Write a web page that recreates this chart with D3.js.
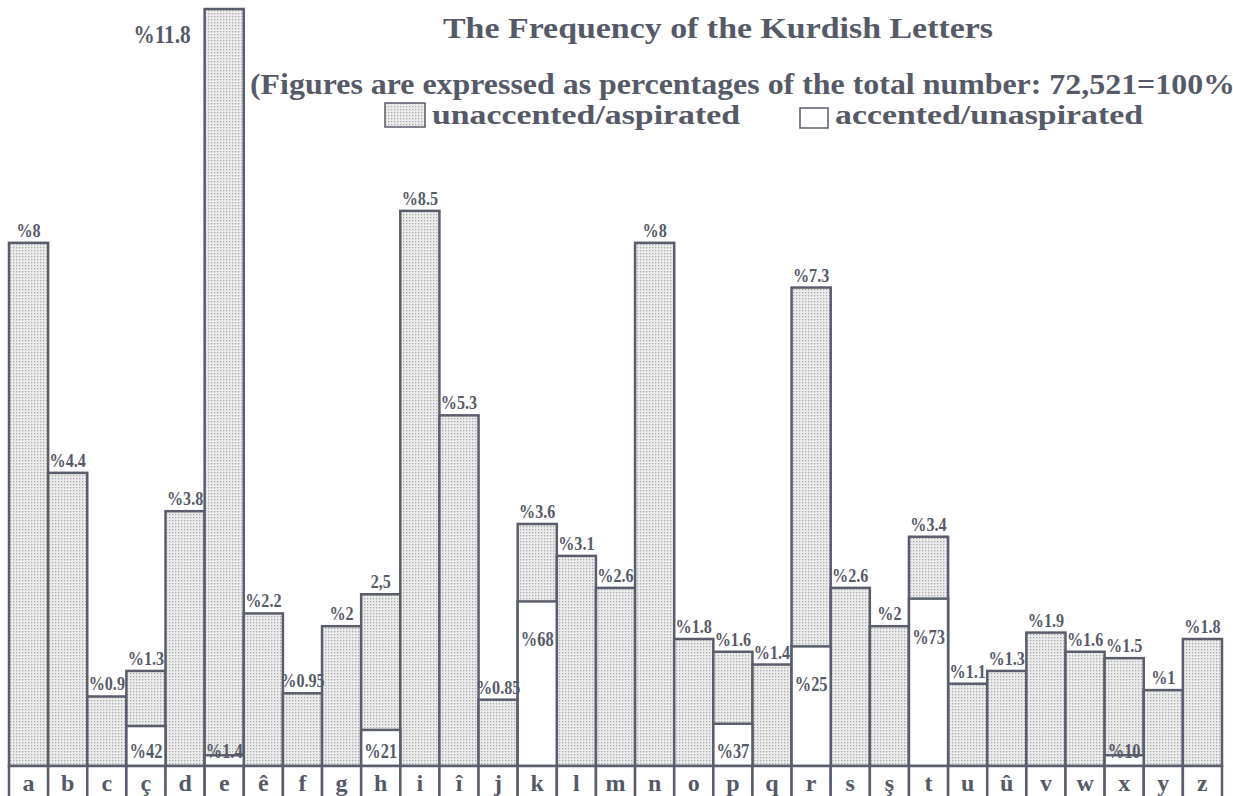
<!DOCTYPE html>
<html>
<head>
<meta charset="utf-8">
<script src="https://cdn.jsdelivr.net/npm/d3@7"></script>
<style>
  body { margin: 0; background: #fff; }
  svg text { font-family: "Liberation Serif", "Times New Roman", serif; font-weight: bold; fill: #565a68; }
</style>
</head>
<body>
<div id="chart"></div>
<script>
(function() {
"use strict"

var width = 1233, height = 796;

// letters of the Kurdish (Latin) alphabet
var letters = ["a","b","c","ç","d","e","ê","f","g","h","i","î","j","k","l","m","n","o","p","q","r","s","ş","t","u","û","v","w","x","y","z"];
// total frequency of each letter, % of 72,521
var freq = [8,4.4,0.9,1.3,3.8,11.8,2.2,0.95,2,2.5,8.5,5.3,0.85,3.6,3.1,2.6,8,1.8,1.6,1.4,7.3,2.6,2,3.4,1.1,1.3,1.9,1.6,1.5,1,1.8];
// labels as printed above the bars
var freqLabels = ["%8","%4.4","%0.9","%1.3","%3.8","%11.8","%2.2","%0.95","%2","2,5","%8.5","%5.3","%0.85","%3.6","%3.1","%2.6","%8","%1.8","%1.6","%1.4","%7.3","%2.6","%2","%3.4","%1.1","%1.3","%1.9","%1.6","%1.5","%1","%1.8"];
// share of the accented/unaspirated form within a letter (% of that letter)
var accLetters = ["ç","e","h","k","p","r","t","x"];
var accShare = [42,1.4,21,68,37,25,73,10];

var title = "The Frequency of the Kurdish Letters";
var subtitle = "(Figures are expressed as percentages of the total number: 72,521=100%";
var legendNames = ["unaccented/aspirated","accented/unaspirated"];

var ink = "#5a5e6c";
var base = 766; // top of the letter row

var svg = d3.select("#chart").append("svg")
    .attr("width", width)
    .attr("height", height);

// stipple pattern for the unaccented part
var pat = svg.append("defs").append("pattern")
    .attr("id","stipple")
    .attr("width",3).attr("height",3)
    .attr("patternUnits","userSpaceOnUse");
pat.append("rect").attr("width",3).attr("height",3).attr("fill","#ececec");
pat.append("rect").attr("x",1).attr("y",1).attr("width",1.3).attr("height",1.3).attr("fill","#a9a9a9");

var x = d3.scaleBand()
    .domain(letters)
    .range([9, 1222])
    .padding(0);

var y = d3.scaleLinear()
    .domain([0, 11.8])
    .range([754, 0]);

var data = letters.map(function(l, i) {
    var k = accLetters.indexOf(l);
    return {letter: l, v: freq[i], label: freqLabels[i], acc: k >= 0 ? accShare[k] : null};
});

// squeeze a bold label horizontally, like the printed original
var squeeze = function(f) {
    return function() {
        this.setAttribute("textLength", this.getComputedTextLength() * f);
        this.setAttribute("lengthAdjust", "spacingAndGlyphs");
    };
};

// bars
var bars = svg.append("g");
bars.selectAll("rect.bar")
    .data(data)
  .enter().append("rect")
    .attr("class","bar")
    .attr("x", function(d) { return x(d.letter); })
    .attr("y", function(d) { return Math.max(y(d.v), 9); })
    .attr("width", x.bandwidth())
    .attr("height", function(d) { return base - Math.max(y(d.v), 9); })
    .attr("fill","url(#stipple)")
    .attr("stroke", ink)
    .attr("stroke-width", 2.5);

// accented part, white at the bottom of the bar
var accTop = function(d) { return base - d.acc/100*(base - y(d.v)); };
var accData = data.filter(function(d) { return d.acc !== null; });
bars.selectAll("rect.acc")
    .data(accData)
  .enter().append("rect")
    .attr("class","acc")
    .attr("x", function(d) { return x(d.letter); })
    .attr("y", accTop)
    .attr("width", x.bandwidth())
    .attr("height", function(d) { return base - accTop(d); })
    .attr("fill","#fff")
    .attr("stroke", ink)
    .attr("stroke-width", 2.5);

bars.selectAll("text.acc")
    .data(accData)
  .enter().append("text")
    .attr("class","acc")
    .attr("x", function(d) { return x(d.letter) + x.bandwidth()/2; })
    .attr("y", function(d) { return Math.min(accTop(d) + 45, 758); })
    .attr("text-anchor","middle")
    .style("font-size","20px")
    .text(function(d) { return "%" + d.acc; })
    .each(squeeze(0.82));

// value labels
bars.selectAll("text.val")
    .data(data)
  .enter().append("text")
    .attr("class","val")
    .attr("x", function(d) {
        return y(d.v) < 40 ? x(d.letter) - 14 : x(d.letter) + x.bandwidth()/2;
    })
    .attr("y", function(d) { return y(d.v) < 40 ? 43 : y(d.v) - 6; })
    .attr("text-anchor", function(d) { return y(d.v) < 40 ? "end" : "middle"; })
    .style("font-size", function(d) { return y(d.v) < 40 ? "25px" : "19px"; })
    .text(function(d) { return d.label; })
    .each(squeeze(0.85));

// letter row
var row = svg.append("g");
row.selectAll("rect")
    .data(letters)
  .enter().append("rect")
    .attr("x", function(d) { return x(d); })
    .attr("y", base)
    .attr("width", x.bandwidth())
    .attr("height", 32)
    .attr("fill","#fff")
    .attr("stroke", ink)
    .attr("stroke-width", 2.5);
row.selectAll("text")
    .data(letters)
  .enter().append("text")
    .attr("x", function(d) { return x(d) + x.bandwidth()/2; })
    .attr("y", 791)
    .attr("text-anchor","middle")
    .style("font-size","24px")
    .text(function(d) { return d; });

// titles
svg.append("text")
    .attr("x", 443).attr("y", 38)
    .attr("textLength", 550).attr("lengthAdjust","spacingAndGlyphs")
    .style("font-size","30px")
    .text(title);
svg.append("text")
    .attr("x", 250).attr("y", 94)
    .attr("textLength", 985).attr("lengthAdjust","spacingAndGlyphs")
    .style("font-size","29px")
    .text(subtitle);

// legend
var legend = svg.append("g");
legend.append("rect")
    .attr("x",385).attr("y",103).attr("width",40).attr("height",24)
    .attr("fill","url(#stipple)").attr("stroke",ink).attr("stroke-width",1.5);
legend.append("text")
    .attr("x",432).attr("y",124)
    .attr("textLength",308).attr("lengthAdjust","spacingAndGlyphs")
    .style("font-size","28px")
    .text(legendNames[0]);
legend.append("rect")
    .attr("x",800).attr("y",108).attr("width",28).attr("height",20)
    .attr("fill","#fff").attr("stroke",ink).attr("stroke-width",1.5);
legend.append("text")
    .attr("x",835).attr("y",124)
    .attr("textLength",308).attr("lengthAdjust","spacingAndGlyphs")
    .style("font-size","28px")
    .text(legendNames[1]);
})();
</script>
</body>
</html>
